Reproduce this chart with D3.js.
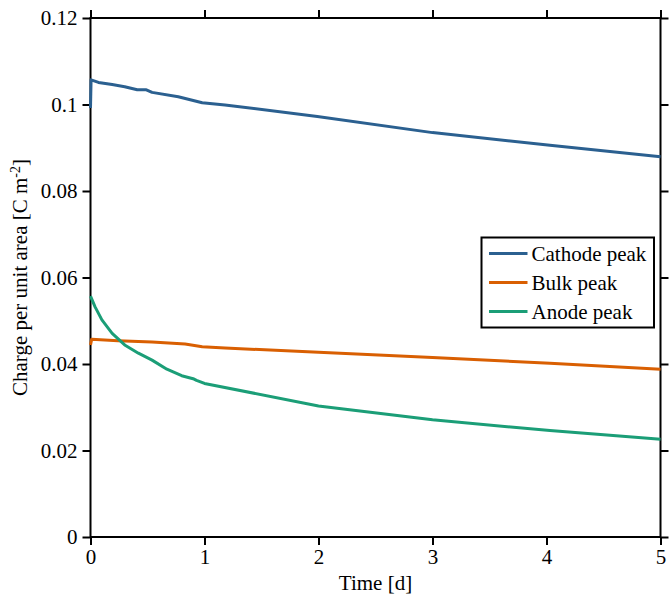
<!DOCTYPE html>
<html>
<head>
<meta charset="utf-8">
<script src="https://cdn.jsdelivr.net/npm/d3@7"></script>
</head>
<body style="margin:0; background:#fff">
<svg id="chart" width="670" height="599"></svg>
<script>
// values
var cathodeT = [0, 0.005, 0.07, 0.19, 0.30, 0.41, 0.49, 0.54, 0.77, 0.98, 1.18, 1.99, 3.0, 4.03, 5];
var cathodeQ = [0.0992, 0.1057, 0.1051, 0.1046, 0.1041, 0.1034, 0.1034, 0.1028, 0.1018, 0.1004, 0.0999, 0.0972, 0.0935, 0.0906, 0.0879];

var bulkT = [0, 0.01, 0.24, 0.54, 0.83, 0.98, 1.18, 2.0, 3.0, 4.03, 5];
var bulkQ = [0.0444, 0.0457, 0.0454, 0.0451, 0.0446, 0.0440, 0.0437, 0.0427, 0.0415, 0.0402, 0.0388];

var anodeT = [0, 0.04, 0.10, 0.19, 0.30, 0.42, 0.54, 0.67, 0.80, 0.90, 0.93, 1.0, 2.0, 3.0, 4.03, 5];
var anodeQ = [0.0557, 0.0532, 0.0502, 0.0471, 0.0444, 0.0425, 0.0409, 0.0388, 0.0373, 0.0366, 0.0362, 0.0355, 0.0303, 0.0271, 0.0246, 0.0226];

var seriesNames = ["Cathode peak", "Bulk peak", "Anode peak"];
var seriesColors = ["#2b6090", "#d95f02", "#1b9e77"];
var xTicks = [0, 1, 2, 3, 4, 5];
var yTicks = [0, 0.02, 0.04, 0.06, 0.08, 0.1, 0.12];

var FONT = "'Liberation Serif'";
var FS = "21px";
var svg = d3.select("#chart");
var pL = 90.5, pR = 660.5, pT = 18, pB = 537;

var x = d3.scaleLinear().domain([0, 5]).range([pL, pR]);
var y = d3.scaleLinear().domain([0, 0.12]).range([pB, pT]);

function fmt(d) { return String(+d.toFixed(2)); }

// axes, ticks out on all four sides
var gx = svg.append("g").attr("transform", "translate(0," + pB + ")")
  .call(d3.axisBottom(x).tickValues(xTicks).tickSize(8).tickPadding(4).tickFormat(fmt));
var gy = svg.append("g").attr("transform", "translate(" + pL + ",0)")
  .call(d3.axisLeft(y).tickValues(yTicks).tickSize(8).tickPadding(5).tickFormat(fmt));
var gt = svg.append("g").attr("transform", "translate(0," + pT + ")")
  .call(d3.axisTop(x).tickValues(xTicks).tickSize(8).tickFormat(""));
var gr = svg.append("g").attr("transform", "translate(" + pR + ",0)")
  .call(d3.axisRight(y).tickValues(yTicks).tickSize(8).tickFormat(""));

[gx, gy, gt, gr].forEach(function(g) {
  g.select(".domain").remove();
  g.selectAll(".tick line").attr("stroke", "#000").attr("stroke-width", 2);
  g.selectAll(".tick text")
    .style("font-family", FONT).style("font-size", FS).attr("fill", "#000");
});

svg.append("rect")
  .attr("x", pL).attr("y", pT)
  .attr("width", pR - pL).attr("height", pB - pT)
  .attr("fill", "none").attr("stroke", "#000").attr("stroke-width", 2);

// lines
var line = d3.line().x(function(d) { return x(d[0]); }).y(function(d) { return y(d[1]); });
var allT = [cathodeT, bulkT, anodeT];
var allQ = [cathodeQ, bulkQ, anodeQ];

allT.forEach(function(ts, i) {
  var pts = ts.map(function(t, j) { return [t, allQ[i][j]]; });
  svg.append("path").datum(pts)
    .attr("d", line)
    .attr("fill", "none")
    .attr("stroke", seriesColors[i])
    .attr("stroke-width", 3)
    .attr("stroke-linejoin", "round");
});

// axis labels
svg.append("text")
  .attr("x", (pL + pR) / 2).attr("y", 590)
  .attr("text-anchor", "middle")
  .style("font-family", FONT).style("font-size", FS)
  .text("Time [d]");

var yl = svg.append("text")
  .attr("transform", "translate(27," + ((pT + pB) / 2) + ") rotate(-90)")
  .attr("text-anchor", "middle")
  .style("font-family", FONT).style("font-size", FS);
yl.append("tspan").text("Charge per unit area [C m");
yl.append("tspan").attr("baseline-shift", "super").style("font-size", "14px").text("-2");
yl.append("tspan").text("]");

// legend
var lg = svg.append("g");
var lgX = 481.5, lgY = 237.5, rowH = 29;
lg.append("rect")
  .attr("x", lgX).attr("y", lgY).attr("width", 172.5).attr("height", rowH * 2 + 32)
  .attr("fill", "#fff").attr("stroke", "#000").attr("stroke-width", 2);
seriesNames.forEach(function(name, i) {
  var cy = lgY + 16 + i * rowH;
  lg.append("line")
    .attr("x1", lgX + 7.5).attr("x2", lgX + 46).attr("y1", cy).attr("y2", cy)
    .attr("stroke", seriesColors[i]).attr("stroke-width", 3);
  lg.append("text")
    .attr("x", lgX + 50).attr("y", cy).attr("dy", "0.35em")
    .style("font-family", FONT).style("font-size", FS).text(name);
});
</script>
</body>
</html>
